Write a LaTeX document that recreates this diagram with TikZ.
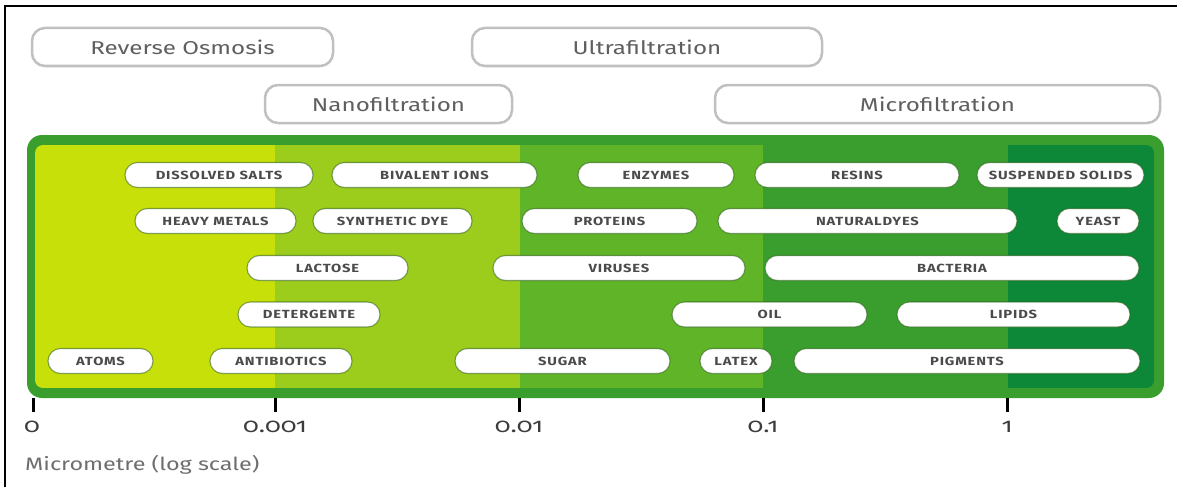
\documentclass[tikz,border=0pt]{standalone}
\usepackage{fontspec}
\setmainfont{Fira Sans}
\newfontfamily\topfont[FakeStretch=1.3]{Fira Sans}
\newfontfamily\pillfont[FakeStretch=1.25,LetterSpace=7]{Fira Sans}
\newfontfamily\numfont[FakeStretch=1.3,Numbers=OldStyle]{Fira Sans}
\definecolor{bordergreen}{RGB}{58,158,46}
\definecolor{bandA}{RGB}{200,224,10}
\definecolor{bandB}{RGB}{156,204,28}
\definecolor{bandC}{RGB}{96,180,40}
\definecolor{bandD}{RGB}{58,158,46}
\definecolor{bandE}{RGB}{12,136,56}
\definecolor{boxgray}{RGB}{192,192,192}
\definecolor{topgray}{RGB}{95,95,95}
\definecolor{pilltext}{RGB}{75,75,75}
\definecolor{pillline}{RGB}{40,90,20}
\definecolor{axisgray}{RGB}{60,60,60}
\definecolor{captiongray}{RGB}{110,110,110}
\begin{document}
\begin{tikzpicture}[x=1pt,y=-1pt,
 topbox/.style={draw=boxgray, line width=2.5pt, fill=white, rounded corners=13pt, minimum height=38pt, inner sep=0pt, font=\topfont\fontsize{18.6}{20}\selectfont, text=topgray},
 pill/.style={draw=pillline, draw opacity=0.55, line width=1.1pt, fill=white, rounded corners=12.5pt, minimum height=25pt, inner sep=0pt, font=\pillfont\bfseries\fontsize{11.8}{13}\selectfont, text=pilltext},
 tickmark/.style={line width=3pt, draw=black},
 ticklabel/.style={font=\numfont\fontsize{20}{22}\selectfont, text=axisgray, inner sep=0pt, anchor=base},
]
\useasboundingbox (0,0) rectangle (1177,487);
\fill[white] (0,0) rectangle (1177,487);
\draw[line width=1.5pt] (5,487) -- (5,6) -- (1177,6);

% top boxes
\node[topbox, minimum width=301pt] (ro) at (182.5,47) {Reverse Osmosis};
\node[topbox, minimum width=247pt] (nf) at (388.5,104) {Nanofiltration};
\node[topbox, minimum width=350pt] (uf) at (647,47) {Ultrafiltration};
\node[topbox, minimum width=445pt] (mf) at (937.5,104) {Microfiltration};

% green panel
\fill[bordergreen, rounded corners=15pt] (27,135) rectangle (1164,398);
\begin{scope}
\clip[rounded corners=8pt] (35,145) rectangle (1154,388);
\fill[bandA] (35,145) rectangle (275,388);
\fill[bandB] (275,145) rectangle (520,388);
\fill[bandC] (520,145) rectangle (763,388);
\fill[bandD] (763,145) rectangle (1008,388);
\fill[bandE] (1008,145) rectangle (1154,388);
\end{scope}

% row 1
\node[pill, minimum width=188pt] (salts) at (219,175) {DISSOLVED SALTS};
\node[pill, minimum width=205pt] (ions) at (434.5,175) {BIVALENT IONS};
\node[pill, minimum width=156pt] (enz) at (656,175) {ENZYMES};
\node[pill, minimum width=204pt] (resins) at (857,175) {RESINS};
\node[pill, minimum width=167pt] (solids) at (1060.5,175) {SUSPENDED SOLIDS};
% row 2
\node[pill, minimum width=161pt] (metals) at (215.5,221) {HEAVY METALS};
\node[pill, minimum width=159pt] (dye) at (392.5,221) {SYNTHETIC DYE};
\node[pill, minimum width=175pt] (prot) at (609.5,221) {PROTEINS};
\node[pill, minimum width=299pt] (natdyes) at (867.5,221) {NATURALDYES};
\node[pill, minimum width=82pt] (yeast) at (1098,221) {YEAST};
% row 3
\node[pill, minimum width=161pt] (lact) at (327.5,268) {LACTOSE};
\node[pill, minimum width=252pt] (vir) at (619,268) {VIRUSES};
\node[pill, minimum width=374pt] (bact) at (952,268) {BACTERIA};
% row 4
\node[pill, minimum width=142pt] (det) at (309,314.5) {DETERGENTE};
\node[pill, minimum width=195pt] (oil) at (769.5,314.5) {OIL};
\node[pill, minimum width=233pt] (lip) at (1013.5,314.5) {LIPIDS};
% row 5
\node[pill, minimum width=105pt] (atoms) at (100.5,361) {ATOMS};
\node[pill, minimum width=142pt] (anti) at (281,361) {ANTIBIOTICS};
\node[pill, minimum width=215pt] (sugar) at (562.5,361) {SUGAR};
\node[pill, minimum width=72pt] (latex) at (736,361) {LATEX};
\node[pill, minimum width=346pt] (pig) at (967,361) {PIGMENTS};

% axis
\draw[tickmark] (33,398) -- (33,412);
\draw[tickmark] (275,398) -- (275,412);
\draw[tickmark] (519,398) -- (519,412);
\draw[tickmark] (763,398) -- (763,412);
\draw[tickmark] (1007,398) -- (1007,412);
\node[ticklabel] (t0) at (32,432) {0};
\node[ticklabel] (t1) at (275,432) {0.001};
\node[ticklabel] (t2) at (519,432) {0.01};
\node[ticklabel] (t3) at (763,432) {0.1};
\node[ticklabel] (t4) at (1007,432) {1};
\node[anchor=base west, inner sep=0pt, font=\topfont\fontsize{18}{20}\selectfont, text=captiongray] (cap) at (25,470) {Micrometre (log scale)};
\end{tikzpicture}
\end{document}
